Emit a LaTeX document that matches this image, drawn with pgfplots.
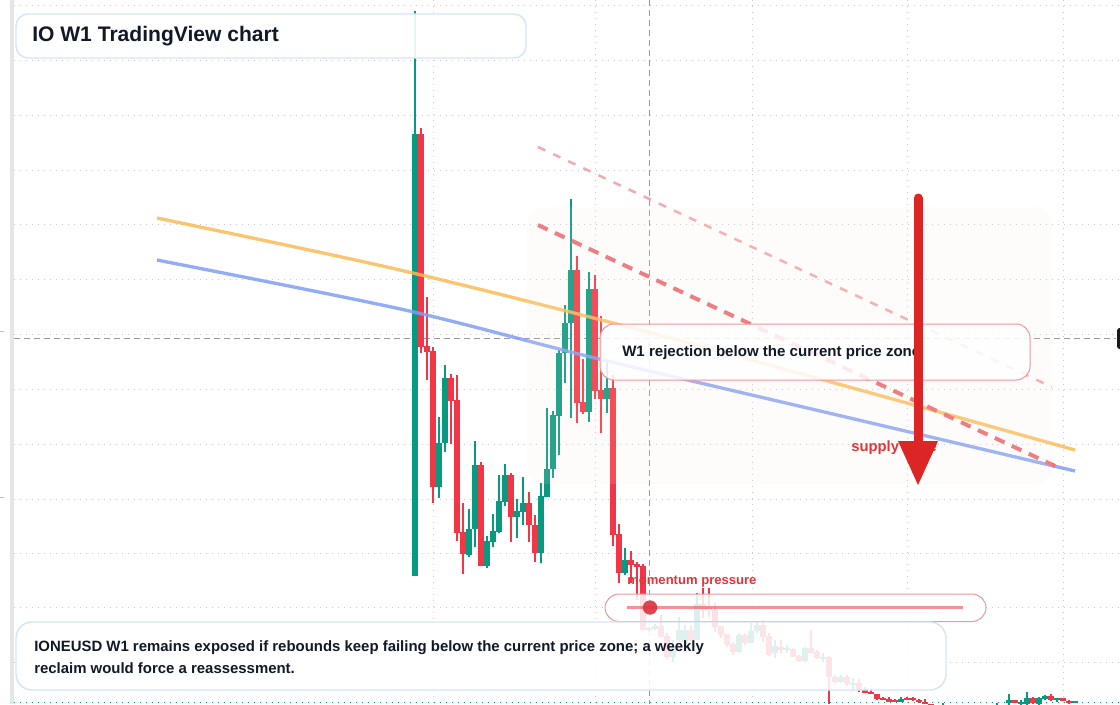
\documentclass[border=0pt]{standalone}
\usepackage{pgfplots}
\pgfplotsset{compat=1.18}
\usepackage{pgfplotstable}
\usepackage{fontspec}
\setmainfont{Liberation Sans}
\definecolor{cgreen}{RGB}{8,153,129}
\definecolor{cred}{RGB}{242,54,69}
\definecolor{maorange}{RGB}{250,186,85}
\definecolor{mablue}{RGB}{128,158,245}
\definecolor{dashlight}{RGB}{245,170,175}
\definecolor{dashdark}{RGB}{236,112,118}
\definecolor{arrowred}{RGB}{220,38,38}
\definecolor{txt}{RGB}{17,24,39}
\definecolor{labred}{RGB}{226,52,58}
\definecolor{boxblue}{RGB}{214,228,251}
\definecolor{boxred}{RGB}{238,150,155}
\definecolor{gridc}{RGB}{200,202,208}
\definecolor{zonec}{RGB}{250,232,214}
\tikzset{gridst/.style={draw=gridc, line width=0.75pt, dash pattern=on 0.9pt off 3.6pt}}

% candles in screen units: x, open, high (top), low (bottom), close
\pgfplotstableread{
x o h l c
415 576 11 576 134
439 487 417 498 443
445 443 365 452 378
469 555 509 557 529
475 529 441 547 465
487 566 536 568 541
493 542 514 547 531
499 532 475 533 501
505 502 464 506 475
517 517 499 538 511
523 512 477 525 503
541 553 483 563 496
547 497 408 497 469
553 469 411 478 415
559 416 350 455 353
565 353 305 383 323
571 323 199 418 270
589 412 272 422 289
607 399 359 413 388
625 573 548 575 560
649 629 627 631 628
655 629 624 630 626
673 657 640 662 648
679 640 617 642 630
685 642 625 642 630
697 640 593 640 604
739 652 633 653 635
751 643 623 643 631
757 631 622 633 625
775 653 640 658 646
787 650 645 653 648
805 661 647 662 648
823 659 653 662 657
841 682 675 683 677
853 684 678 690 683
901 702 697 702 699
943 710 702.5 714 706
997 711 702.5 713 706
1003 709 705 711 706
1009 703 694 705 700
1021 704 700 705 702
1027 704 692 705 698
1039 704 697 705 698
1045 699 695 700 696
1057 699 698 702 698
1075 702.5 701 703 701.5
}\up
\pgfplotstableread{
x o h l c
421 134 128 353 347
427 346 297 380 352
433 351 347 503 487
451 378 374 444 401
457 400 375 541 533
463 532 503 574 554
481 465 462 566 566
511 475 473 542 517
529 503 492 542 525
535 525 515 562 553
577 270 256 423 403
583 402 359 414 412
595 289 275 399 391
601 390 316 433 399
613 388 375 546 535
619 534 524 583 573
631 560 551 583 565
637 564 562 600 567
643 566 564 631 630
661 626 615 637 637
667 636 633 659 657
691 630 625 641 640
703 604 588 618 610
709 607 588 617 610
715 610 603 632 627
721 626 626 638 635
727 634 634 647 645
733 644 642 655 652
745 635 633 645 643
763 625 620 642 637
769 636 633 656 655
781 647 640 653 650
793 649 648 657 657
799 656 655 662 661
811 648 630 653 653
817 652 650 659 658
829 657 656 704 677
835 677 675 683 682
847 677 675 686 684
859 683 679 692 690
865 690 687 693 693
871 692 690 694 693
877 694 694 700 699
883 698.5 697 700 699.5
889 699 697 702 702
895 700.5 699 702 701.5
907 698.5 697 700 699.5
913 698.5 697 701 699.5
919 700 699 703 702
925 702 699 704 703
931 704 703.5 709 708
937 708 706 712 711
949 707 706 713 712
955 712 707 716 714
961 714 709 717 711
967 711 708 715 713
973 713 709 716 714
979 714 710 718 716
985 716 712 719 717
991 717 711 720 712
1015 700 700 703 703
1033 698 697 704 703
1051 696 694 701 700
1063 698 698 701 701
1069 701 700 704 703
}\down

\newcommand{\candles}[2]{%
\addplot[draw=none, mark=none, forget plot, error bars/.cd, y dir=both, y explicit, error mark=none, error bar style={draw=#2, line width=0.8pt}]
  table[x=x, y expr={(\thisrow{h}+\thisrow{l})/2}, y error expr={max((\thisrow{l}-\thisrow{h})/2,0.5)}] {#1};
\addplot[draw=none, mark=none, forget plot, error bars/.cd, y dir=both, y explicit, error mark=none, error bar style={draw=#2, line width=3.9pt}]
  table[x=x, y expr={(\thisrow{o}+\thisrow{c})/2}, y error expr={max(abs(\thisrow{o}-\thisrow{c})/2,0.7)}] {#1};
}

\begin{document}
\begin{tikzpicture}
\begin{axis}[
  scale only axis, width=840pt, height=528pt,
  xmin=0, xmax=1120, ymin=0, ymax=704, y dir=reverse,
  axis line style={draw=none}, ticks=none, clip=true,
]
% left bar and grid
\fill[black!10] (axis cs:10,0) rectangle (axis cs:13.5,704);
\pgfplotsinvokeforeach{5,60,115,170,224.5,279.5,334,389.3,444.3,499.3,553.5,607.5,662.5}{
  \draw[gridst] (axis cs:14,#1) -- (axis cs:1120,#1);
}
\pgfplotsinvokeforeach{433,595,752,907,1063}{
  \draw[gridst] (axis cs:#1,0) -- (axis cs:#1,704);
}
\draw[black!25, line width=0.75pt] (axis cs:0,331) -- (axis cs:4,331);
\draw[black!25, line width=0.75pt] (axis cs:0,497) -- (axis cs:4,497);
% crosshair
\draw[black!40, line width=0.75pt, dash pattern=on 4.5pt off 3pt] (axis cs:649,0) -- (axis cs:649,704);
\draw[black!40, line width=0.75pt, dash pattern=on 4.5pt off 3pt] (axis cs:14,338.3) -- (axis cs:1116,338.3);
% current price line
\draw[cgreen, line width=1.1pt, dash pattern=on 1.1pt off 3.4pt] (axis cs:14,702.5) -- (axis cs:1120,702.5);

% candles
\candles{\up}{cgreen}
\candles{\down}{cred}

% moving averages
\addplot[maorange, line width=2.5pt, opacity=0.85, smooth, forget plot] coordinates {(157,218) (400,270) (640,330) (860,390) (1075,450)};
\addplot[mablue, line width=2.5pt, opacity=0.85, smooth, forget plot] coordinates {(157,260) (405,310) (595,358) (850,418) (1075,471)};
% dashed channel lines
\addplot[dashlight, line width=1.9pt, dash pattern=on 6pt off 6.5pt, forget plot] coordinates {(538,147) (1052,387)};
\addplot[dashdark, line width=3pt, dash pattern=on 8pt off 6pt, forget plot] coordinates {(538,225) (1055,466)};

% zone overlay
\fill[zonec, fill opacity=0.13, rounded corners=13.5pt] (axis cs:527,207) rectangle (axis cs:1052,484);

% callout box
\draw[boxred, line width=0.75pt, fill=white, fill opacity=0.85, rounded corners=10.5pt] (axis cs:600,324) rectangle (axis cs:1030,380);
\node[anchor=west, inner sep=0pt, text=txt, font=\bfseries\fontsize{11.3pt}{13pt}\selectfont] at (axis cs:622,353) {W1 rejection below the current price zone};

% supply zone label and arrow
\node[anchor=west, inner sep=0pt, text=labred, font=\bfseries\fontsize{11.1pt}{13pt}\selectfont] at (axis cs:851,448) {supply zone};
\draw[arrowred, line width=6.75pt, line cap=round] (axis cs:918,198) -- (axis cs:918,446);
\fill[arrowred] (axis cs:898,441) -- (axis cs:938,441) -- (axis cs:918,485) -- cycle;

% momentum box
\node[anchor=west, inner sep=0pt, text=labred, font=\bfseries\fontsize{9.8pt}{11pt}\selectfont] at (axis cs:627,582) {momentum pressure};
\draw[boxred, line width=0.75pt, fill=white, fill opacity=0.85, rounded corners=10.5pt] (axis cs:605,594) rectangle (axis cs:986,621.5);
\draw[cred, opacity=0.55, line width=2.4pt] (axis cs:627,607.5) -- (axis cs:963,607.5);
\fill[cred!90!black, opacity=0.9] (axis cs:650,607.5) circle[radius=5.4pt];

% bottom text box
\draw[boxblue, line width=1.1pt, fill=white, fill opacity=0.87, rounded corners=12pt] (axis cs:16,622) rectangle (axis cs:946,690);
\node[anchor=west, inner sep=0pt, text=txt, font=\bfseries\fontsize{11.2pt}{13pt}\selectfont] at (axis cs:34,648) {IONEUSD W1 remains exposed if rebounds keep failing below the current price zone; a weekly};
\node[anchor=west, inner sep=0pt, text=txt, font=\bfseries\fontsize{11.2pt}{13pt}\selectfont] at (axis cs:34,668) {reclaim would force a reassessment.};

% title box
\draw[boxblue, line width=1.1pt, fill=white, fill opacity=0.9, rounded corners=9pt] (axis cs:16,14) rectangle (axis cs:526,58);
\node[anchor=west, inner sep=0pt, text=txt, font=\bfseries\fontsize{15.8pt}{18pt}\selectfont] at (axis cs:32,36) {IO W1 TradingView chart};

% price label at right edge
\fill[black!90, rounded corners=2pt] (axis cs:1117,328) rectangle (axis cs:1126,349);
\end{axis}
\pgfresetboundingbox
\path[use as bounding box] (0,0) rectangle (840pt,528pt);
\end{tikzpicture}
\end{document}
